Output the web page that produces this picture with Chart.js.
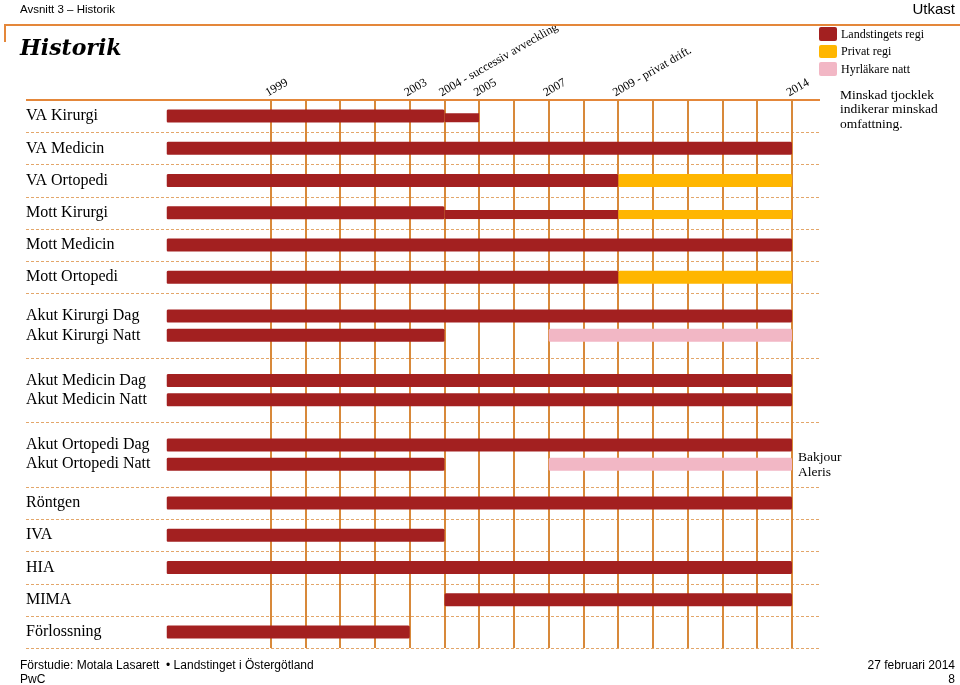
<!DOCTYPE html>
<html>
<head>
<meta charset="utf-8">
<script src="https://cdn.jsdelivr.net/npm/chart.js@4"></script>
<style>
  html, body { margin:0; padding:0; background:#fff; }
  body { width:960px; height:685px; position:relative; overflow:hidden; font-family:"Liberation Sans", Arial, sans-serif; color:#000; }
  .abs { position:absolute; white-space:nowrap; }
  .serif { font-family:"Liberation Serif", serif; }
  #wrap { position:absolute; left:0; top:0; width:960px; height:685px; }
  .sw { position:absolute; width:17.5px; height:13.3px; border-radius:2px; left:819px; }
</style>
</head>
<body>
<div id="wrap"><canvas id="c"></canvas></div>

<!-- header -->
<div class="abs" style="left:20px; top:3.6px; font-size:11.5px; line-height:11.5px;">Avsnitt 3 – Historik</div>
<div class="abs" style="right:5px; top:1.3px; font-size:15px; line-height:15px;">Utkast</div>
<div class="abs" style="left:4px; top:24.3px; width:956px; height:1.5px; background:#E4873A;"></div>
<div class="abs" style="left:4px; top:24.3px; width:1.5px; height:18px; background:#E4873A;"></div>
<div class="abs" style="left:20px; top:36.4px; font-family:'DejaVu Serif', serif; font-weight:bold; font-style:italic; font-size:22px; line-height:22px;">Historik</div>

<!-- legend -->
<div class="sw" style="top:27.3px; background:#A32020;"></div>
<div class="sw" style="top:44.6px; background:#FFB600;"></div>
<div class="sw" style="top:62.4px; background:#F2B7C5;"></div>
<div class="abs serif" id="lg1" style="left:841px; top:28px; font-size:12px; line-height:12px;"></div>
<div class="abs serif" id="lg2" style="left:841px; top:45.3px; font-size:12px; line-height:12px;"></div>
<div class="abs serif" id="lg3" style="left:841px; top:63px; font-size:12px; line-height:12px;"></div>
<div class="abs serif" style="left:840px; top:87.8px; font-size:13.5px; line-height:14.5px;">Minskad tjocklek<br>indikerar minskad<br>omfattning.</div>
<div class="abs serif" style="left:798px; top:448.5px; font-size:13.5px; line-height:15px;">Bakjour<br>Aleris</div>

<!-- footer -->
<div class="abs" style="left:20px; top:658.8px; font-size:12px; line-height:12px;">Förstudie: Motala Lasarett &nbsp;•&nbsp;Landstinget i Östergötland</div>
<div class="abs" style="left:20px; top:672.8px; font-size:12px; line-height:12px;">PwC</div>
<div class="abs" style="right:5px; top:658.8px; font-size:12px; line-height:12px;">27 februari 2014</div>
<div class="abs" style="right:5px; top:672.8px; font-size:12px; line-height:12px;">8</div>

<script>
// ---------- data ----------
const groups = [
  ['VA Kirurgi'], ['VA Medicin'], ['VA Ortopedi'], ['Mott Kirurgi'], ['Mott Medicin'], ['Mott Ortopedi'],
  ['Akut Kirurgi Dag', 'Akut Kirurgi Natt'],
  ['Akut Medicin Dag', 'Akut Medicin Natt'],
  ['Akut Ortopedi Dag', 'Akut Ortopedi Natt'],
  ['Röntgen'], ['IVA'], ['HIA'], ['MIMA'], ['Förlossning']
];
const rows = groups.flat();

const seriesNames = ['Landstingets regi', 'Privat regi', 'Hyrläkare natt'];

// one entry per row (same order as rows): [start year, end year] or null
const landstingetsRegi = [
  [1996, 2004], [1996, 2014], [1996, 2009], [1996, 2004], [1996, 2014], [1996, 2009],
  [1996, 2014], [1996, 2004],
  [1996, 2014], [1996, 2014],
  [1996, 2014], [1996, 2004],
  [1996, 2014], [1996, 2004], [1996, 2014], [2004, 2014], [1996, 2003]
];
const landstingetsRegiMinskad = [
  [2004, 2005], null, null, [2004, 2009], null, null,
  null, null, null, null, null, null,
  null, null, null, null, null
];
const privatRegi = [
  null, null, [2009, 2014], null, null, [2009, 2014],
  null, null, null, null, null, null,
  null, null, null, null, null
];
const privatRegiMinskad = [
  null, null, null, [2009, 2014], null, null,
  null, null, null, null, null, null,
  null, null, null, null, null
];
const hyrlakareNatt = [
  null, null, null, null, null, null,
  null, [2007, 2014],
  null, null,
  null, [2007, 2014],
  null, null, null, null, null
];

const axisStart = 1996, axisEnd = 2014, firstGridYear = 1999;
const yearTicks = [1999, 2003, 2004, 2005, 2007, 2009, 2014];
const yearTickLabels = ['1999', '2003', '2004 - successiv avveckling', '2005', '2007', '2009 - privat drift.', '2014'];

// ---------- styles ----------
const RED = '#A32020', YELLOW = '#FFB600', PINK = '#F2B7C5';
const GRID = '#D8893A', TOPLINE = '#E4873A', DASH = '#E3A66A';
const SERIF = '"Liberation Serif", serif';

document.getElementById('lg1').textContent = seriesNames[0];
document.getElementById('lg2').textContent = seriesNames[1];
document.getElementById('lg3').textContent = seriesNames[2];

// category slots: single rows take a band of 5 slots, paired rows a band of 10
const slotLabels = [];
const bandStarts = [];
groups.forEach(g => {
  bandStarts.push(slotLabels.length);
  if (g.length === 1) slotLabels.push('', '', g[0], '', '');
  else slotLabels.push('', '', '', g[0], '', '', g[1], '', '', '');
});
bandStarts.push(slotLabels.length);

function toData(arr) {
  const out = [];
  arr.forEach((v, i) => { if (v) out.push({ x: v, y: rows[i] }); });
  return out;
}

const base = { grouped: false, categoryPercentage: 1, barPercentage: 5, maxBarThickness: 13, borderRadius: 1.5, borderSkipped: false };
const reduced = { borderWidth: { top: 3.6, right: 0, bottom: 0, left: 0 }, borderColor: 'rgba(0,0,0,0)' };

const datasets = [
  Object.assign({ label: seriesNames[0], data: toData(landstingetsRegi), backgroundColor: RED }, base),
  Object.assign({ label: seriesNames[0] + ' (minskad)', data: toData(landstingetsRegiMinskad), backgroundColor: RED }, base, reduced),
  Object.assign({ label: seriesNames[1], data: toData(privatRegi), backgroundColor: YELLOW }, base),
  Object.assign({ label: seriesNames[1] + ' (minskad)', data: toData(privatRegiMinskad), backgroundColor: YELLOW }, base, reduced),
  Object.assign({ label: seriesNames[2], data: toData(hyrlakareNatt), backgroundColor: PINK }, base)
];

const separators = {
  id: 'separators',
  beforeDraw(chart) {
    const ctx = chart.ctx, y = chart.scales.y;
    const x0 = chart.options.layout.padding.left, x1 = 820;
    ctx.save();
    bandStarts.forEach((b, i) => {
      const py = Math.round(y.getPixelForValue(b - 0.5));
      ctx.beginPath();
      if (i === 0) { ctx.setLineDash([]); ctx.strokeStyle = TOPLINE; ctx.lineWidth = 2; }
      else { ctx.setLineDash([3, 2]); ctx.strokeStyle = DASH; ctx.lineWidth = 1; }
      ctx.moveTo(x0, py + (i === 0 ? 0 : 0.5));
      ctx.lineTo(x1, py + (i === 0 ? 0 : 0.5));
      ctx.stroke();
    });
    ctx.restore();
  }
};

new Chart(document.getElementById('c'), {
  type: 'bar',
  data: { labels: slotLabels, datasets },
  options: {
    indexAxis: 'y',
    responsive: true,
    maintainAspectRatio: false,
    animation: false,
    devicePixelRatio: 1,
    layout: { padding: { left: 26, right: 168, top: 0, bottom: 37 } },
    plugins: { legend: { display: false }, tooltip: { enabled: false } },
    scales: {
      x: {
        type: 'linear', position: 'top', min: axisStart, max: axisEnd,
        afterFit(s) { s.height = 0; },
        ticks: { display: false, stepSize: 1 },
        grid: {
          color: c => (c.tick && c.tick.value >= firstGridYear) ? GRID : 'rgba(0,0,0,0)',
          lineWidth: 2, drawTicks: false
        },
        border: { display: false }
      },
      xLabels: {
        type: 'linear', position: 'top', min: axisStart - 0.08, max: axisEnd - 0.08,
        afterBuildTicks(s) { s.ticks = yearTicks.map(v => ({ value: v })); },
        afterFit(s) { s.height = 100; },
        grid: { display: false, drawTicks: false },
        border: { display: false },
        ticks: {
          autoSkip: false, minRotation: 30, maxRotation: 30, padding: 0, color: '#000',
          font: { family: SERIF, size: 12 },
          callback: v => { const i = yearTicks.indexOf(v); return i >= 0 ? yearTickLabels[i] : ''; }
        }
      },
      y: {
        type: 'category', offset: true,
        afterFit(s) { s.width = 140.5; },
        grid: { display: false, drawTicks: false },
        border: { display: false },
        ticks: { autoSkip: false, crossAlign: 'far', padding: 0, color: '#000', font: { family: SERIF, size: 16 } }
      }
    }
  },
  plugins: [separators]
});
</script>
</body>
</html>
